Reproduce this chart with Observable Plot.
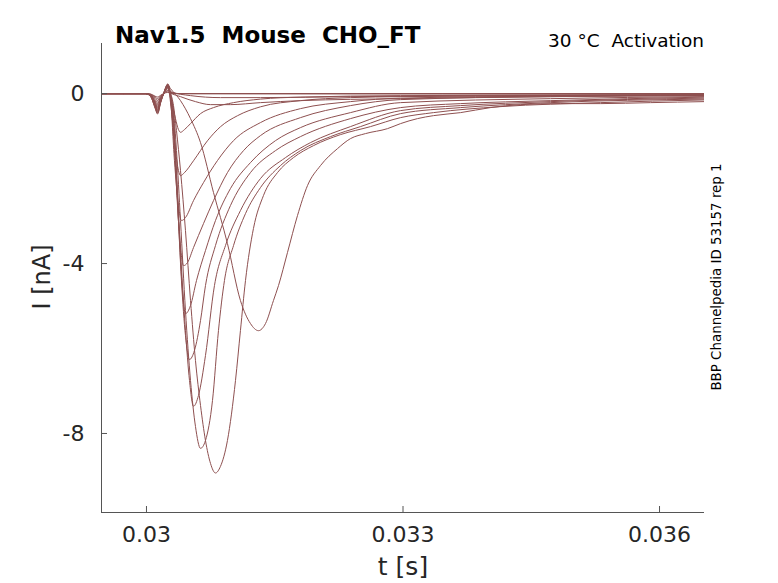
<!DOCTYPE html>
<html>
<head>
<meta charset="utf-8">
<script src="https://cdn.jsdelivr.net/npm/d3@7"></script>
<script src="https://cdn.jsdelivr.net/npm/@observablehq/plot@0.6"></script>
<style>
  html, body { margin: 0; padding: 0; background: white; }
  svg text { font-family: "DejaVu Sans", sans-serif; }
</style>
</head>
<body>
<div id="chart"></div>
<script>
// time in ms, current in nA
const trace01 = [[29.47,0],[29.99,0],[30.05,-0.05],[30.10,-0.21],[30.13,-0.30],[30.165,-0.14],[30.20,0],[30.25,0.14],[30.292,-0.165],[30.339,-0.588],[30.374,-0.847],[30.398,-0.91],[30.444,-0.847],[30.515,-0.706],[30.632,-0.471],[30.784,-0.329],[31.018,-0.212],[31.333,-0.129],[31.801,-0.082],[32.971,-0.047],[36.526,-0.024]];
const trace02 = [[29.47,0],[29.99,0],[30.05,-0.05],[30.10,-0.23],[30.13,-0.33],[30.165,-0.15],[30.20,0],[30.25,0.15],[30.292,-0.40],[30.339,-1.34],[30.374,-1.81],[30.398,-1.93],[30.444,-1.86],[30.550,-1.58],[30.713,-1.11],[30.865,-0.78],[31.064,-0.52],[31.333,-0.31],[31.801,-0.165],[32.386,-0.094],[32.971,-0.071],[34.725,-0.047],[36.526,-0.024]];
const trace03 = [[29.47,0],[29.99,0],[30.05,-0.05],[30.10,-0.25],[30.13,-0.36],[30.165,-0.16],[30.20,0],[30.25,0.17],[30.281,-0.118],[30.327,-1.576],[30.374,-2.635],[30.409,-2.988],[30.456,-2.918],[30.550,-2.518],[30.667,-2.094],[30.830,-1.576],[31.018,-1.106],[31.333,-0.682],[31.801,-0.353],[32.386,-0.188],[32.971,-0.106],[34.725,-0.059],[36.526,-0.035]];
const trace04 = [[29.47,0],[29.99,0],[30.05,-0.06],[30.10,-0.27],[30.13,-0.38],[30.165,-0.17],[30.20,0],[30.25,0.18],[30.281,-0.094],[30.327,-1.341],[30.374,-2.988],[30.409,-3.812],[30.433,-4.05],[30.480,-3.976],[30.550,-3.624],[30.667,-3.059],[30.784,-2.518],[30.947,-1.859],[31.135,-1.341],[31.333,-0.988],[31.801,-0.565],[32.386,-0.282],[32.971,-0.141],[34.725,-0.071],[36.526,-0.047]];
const trace05 = [[29.47,0],[29.99,0],[30.05,-0.06],[30.10,-0.28],[30.13,-0.40],[30.165,-0.18],[30.20,0],[30.25,0.19],[30.281,-0.071],[30.327,-1.106],[30.374,-2.988],[30.421,-4.635],[30.456,-5.18],[30.515,-4.988],[30.585,-4.40],[30.690,-3.694],[30.807,-2.988],[30.982,-2.235],[31.216,-1.624],[31.509,-1.106],[31.801,-0.80],[32.386,-0.447],[32.971,-0.212],[34.725,-0.118],[36.526,-0.071]];
const trace06 = [[29.47,0],[29.99,0],[30.05,-0.06],[30.10,-0.29],[30.13,-0.42],[30.165,-0.19],[30.20,0],[30.25,0.20],[30.281,-0.047],[30.316,-0.635],[30.363,-2.518],[30.409,-4.40],[30.456,-5.694],[30.503,-6.26],[30.561,-6.047],[30.632,-5.341],[30.690,-4.518],[30.807,-3.576],[30.982,-2.635],[31.216,-1.859],[31.509,-1.341],[31.801,-1.012],[32.386,-0.588],[32.971,-0.329],[33.673,-0.235],[34.725,-0.165],[36.526,-0.082]];
const trace07 = [[29.47,0],[29.99,0],[30.05,-0.07],[30.10,-0.31],[30.13,-0.44],[30.165,-0.20],[30.20,0],[30.25,0.21],[30.281,-0.024],[30.316,-0.518],[30.351,-1.812],[30.398,-3.694],[30.456,-5.576],[30.503,-6.753],[30.550,-7.36],[30.608,-7.106],[30.690,-6.165],[30.795,-4.518],[30.924,-3.576],[31.099,-2.753],[31.333,-2.0],[31.626,-1.506],[31.918,-1.153],[32.386,-0.776],[32.971,-0.40],[33.673,-0.282],[34.725,-0.188],[36.526,-0.106]];
const trace08 = [[29.47,0],[29.99,0],[30.05,-0.07],[30.10,-0.32],[30.13,-0.46],[30.165,-0.21],[30.20,0],[30.25,0.22],[30.281,0],[30.316,-0.40],[30.351,-1.341],[30.398,-2.988],[30.456,-5.106],[30.515,-6.753],[30.573,-7.835],[30.632,-8.35],[30.690,-8.165],[30.772,-7.224],[30.842,-5.576],[30.912,-4.40],[31.018,-3.576],[31.158,-2.824],[31.333,-2.212],[31.567,-1.694],[31.801,-1.341],[32.152,-1.012],[32.503,-0.776],[32.971,-0.471],[33.673,-0.329],[34.725,-0.212],[36.526,-0.129]];
const trace09 = [[29.47,0],[29.99,0],[30.05,-0.07],[30.10,-0.34],[30.13,-0.48],[30.165,-0.22],[30.20,0],[30.25,0.23],[30.281,0.024],[30.316,-0.282],[30.351,-0.871],[30.398,-1.812],[30.456,-3.224],[30.515,-4.871],[30.573,-6.282],[30.632,-7.341],[30.690,-8.165],[30.749,-8.706],[30.807,-8.93],[30.865,-8.776],[30.947,-8.165],[31.041,-6.753],[31.099,-5.576],[31.158,-4.40],[31.251,-3.176],[31.368,-2.40],[31.532,-1.859],[31.719,-1.506],[31.953,-1.224],[32.269,-0.965],[32.620,-0.776],[32.971,-0.565],[33.357,-0.447],[34.140,-0.306],[35.310,-0.212],[36.526,-0.148]];
const trace10 = [[29.47,0],[29.99,0],[30.05,-0.04],[30.10,-0.19],[30.13,-0.27],[30.165,-0.12],[30.20,0],[30.25,0.20],[30.281,0.118],[30.398,-0.165],[30.515,-0.588],[30.632,-1.153],[30.784,-2.329],[30.947,-3.529],[31.099,-4.871],[31.216,-5.412],[31.310,-5.58],[31.392,-5.412],[31.485,-4.871],[31.544,-4.518],[31.649,-3.741],[31.766,-2.871],[31.883,-2.165],[32.035,-1.694],[32.234,-1.294],[32.386,-1.059],[32.561,-0.941],[32.819,-0.824],[32.971,-0.706],[33.170,-0.588],[33.357,-0.518],[33.673,-0.447],[34.023,-0.329],[34.374,-0.259],[34.842,-0.235],[35.310,-0.235],[35.895,-0.212],[36.526,-0.188]];
const trace11 = [[29.47,0],[29.99,0],[30.05,-0.04],[30.10,-0.17],[30.13,-0.24],[30.165,-0.11],[30.20,0],[30.25,0.16],[30.281,0.024],[30.398,-0.071],[30.573,-0.188],[30.749,-0.259],[30.982,-0.259],[31.333,-0.212],[31.801,-0.165],[32.971,-0.118],[34.725,-0.071],[36.526,-0.047]];
const trace12 = [[29.47,0],[29.99,0],[30.05,-0.03],[30.10,-0.14],[30.13,-0.20],[30.165,-0.09],[30.20,0],[30.25,0.12],[30.281,0.047],[30.515,-0.047],[30.865,-0.094],[31.333,-0.094],[32.386,-0.071],[36.526,-0.035]];
const trace13 = [[29.47,0],[29.99,0],[30.05,-0.02],[30.10,-0.11],[30.13,-0.16],[30.165,-0.07],[30.20,0],[30.25,0.08],[30.30,0.02],[30.40,0],[36.526,-0.01]];
const trace14 = [[29.47,0],[29.99,0],[30.05,-0.02],[30.10,-0.08],[30.13,-0.12],[30.165,-0.05],[30.20,0],[30.25,0.06],[30.30,0.01],[30.40,0],[36.526,0]];
const trace15 = [[29.47,0],[29.99,0],[30.05,-0.01],[30.10,-0.06],[30.13,-0.08],[30.165,-0.04],[30.20,0],[30.25,0.03],[30.30,0],[36.526,0]];

const traces = [trace01, trace02, trace03, trace04, trace05, trace06, trace07, trace08,
                trace09, trace10, trace11, trace12, trace13, trace14, trace15];

const xTicks = [0.03, 0.033, 0.036];
const yTicks = [0, -4, -8];
const xDomain = [0.029474, 0.036526];
const yDomain = [-9.86, 1.18];

const rows = traces.flatMap((tr, i) => tr.map(([t, I]) => ({trace: i, t: t / 1000, I})));

const lineColor = "#8e5050";
const axisColor = "#555555";
const textColor = "#262626";

const chart = Plot.plot({
  width: 778,
  height: 583,
  marginLeft: 101,
  marginRight: 74,
  marginTop: 43,
  marginBottom: 71,
  style: {fontFamily: "DejaVu Sans", background: "white", overflow: "visible"},
  x: {domain: xDomain},
  y: {domain: yDomain},
  marks: [
    Plot.line(rows, {x: "t", y: "I", z: "trace", stroke: lineColor, strokeWidth: 1, curve: "monotone-x", clip: true}),
    Plot.ruleX([xDomain[0]], {stroke: axisColor, strokeWidth: 1}),
    Plot.ruleY([yDomain[0]], {stroke: axisColor, strokeWidth: 1}),
    Plot.axisX(xTicks, {tickSize: -6, tickPadding: 20, tickFormat: d => String(d), fontSize: 22, label: null, stroke: axisColor, fill: textColor}),
    Plot.axisY(yTicks, {tickSize: -6, tickPadding: 23, tickFormat: d => String(d), fontSize: 22, label: null, stroke: axisColor, fill: textColor})
  ]
});

document.getElementById("chart").appendChild(chart);

const svg = d3.select(chart);
svg.append("text")
  .attr("x", 115).attr("y", 42.5)
  .attr("text-anchor", "start")
  .attr("font-size", 23).attr("font-weight", "bold").attr("fill", "black")
  .style("white-space", "pre")
  .text("Nav1.5  Mouse  CHO_FT");
svg.append("text")
  .attr("x", 704).attr("y", 47)
  .attr("text-anchor", "end")
  .attr("font-size", 18.5).attr("fill", "black")
  .style("white-space", "pre")
  .text("30 °C  Activation");
svg.append("text")
  .attr("x", 403).attr("y", 575)
  .attr("text-anchor", "middle")
  .attr("font-size", 25).attr("fill", textColor)
  .text("t [s]");
svg.append("text")
  .attr("transform", "translate(50,277) rotate(-90)")
  .attr("text-anchor", "middle")
  .attr("font-size", 24).attr("fill", textColor)
  .text("I [nA]");
svg.append("text")
  .attr("transform", "translate(721,277) rotate(-90)")
  .attr("text-anchor", "middle")
  .attr("font-size", 13.4).attr("fill", "black")
  .text("BBP Channelpedia ID 53157 rep 1");
</script>
</body>
</html>
